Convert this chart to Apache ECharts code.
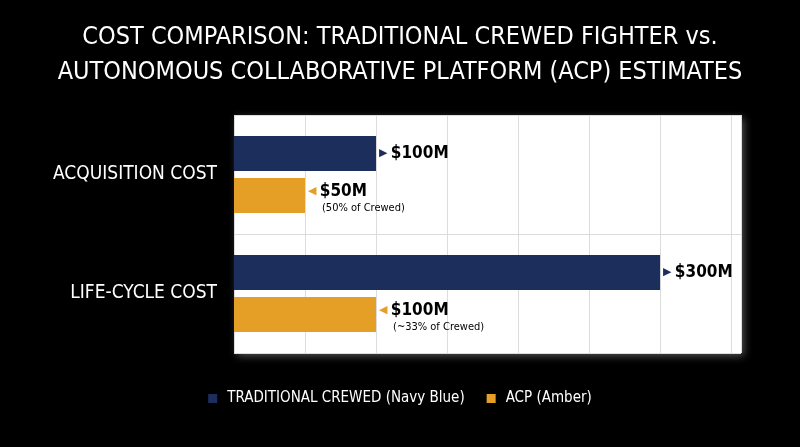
<!DOCTYPE html>
<html>
<head>
<meta charset="utf-8">
<script src="https://cdn.jsdelivr.net/npm/echarts@6/dist/echarts.min.js"></script>
<style>
html,body{margin:0;padding:0;background:#000;}
#chart{width:800px;height:447px;}
</style>
</head>
<body>
<div id="chart"></div>
<script>
var titleLines = ['COST COMPARISON: TRADITIONAL CREWED FIGHTER vs.', 'AUTONOMOUS COLLABORATIVE PLATFORM (ACP) ESTIMATES'];
var categories = ['ACQUISITION COST', 'LIFE-CYCLE COST'];
var seriesNames = ['TRADITIONAL CREWED (Navy Blue)', 'ACP (Amber)'];
var crewedValues = [100, 300];
var acpValues = [50, 100];
var acpNotes = ['(50% of Crewed)', '(~33% of Crewed)'];
var axisMin = 0, axisMax = 357, axisInterval = 50;

var NAVY = '#1c2f5c', AMBER = '#e59f27';
var FONT = '"DejaVu Sans Condensed","DejaVu Sans",sans-serif';

var chart = echarts.init(document.getElementById('chart'));
chart.setOption({
  backgroundColor: '#000',
  animation: false,
  title: {
    text: titleLines.join('\n'),
    left: 'center', top: 15,
    textStyle: { color: '#fff', fontFamily: FONT, fontSize: 25, fontWeight: 'normal', lineHeight: 35 }
  },
  legend: {
    bottom: 36, left: 'center',
    itemWidth: 9, itemHeight: 9, itemGap: 22,
    icon: 'rect',
    textStyle: { color: '#fff', fontFamily: FONT, fontSize: 15, padding: [0, 0, 0, 5] },
    data: seriesNames
  },
  grid: {
    left: 234, right: 59, top: 115, bottom: 94,
    show: true, backgroundColor: '#fff', borderWidth: 0,
    shadowColor: 'rgba(150,150,150,0.55)', shadowBlur: 8, shadowOffsetX: 3, shadowOffsetY: 3
  },
  xAxis: {
    type: 'value', min: axisMin, max: axisMax, interval: axisInterval,
    axisLabel: { show: false }, axisLine: { show: false }, axisTick: { show: false },
    splitLine: { show: true, lineStyle: { color: '#dcdcdc', width: 1 } }
  },
  yAxis: {
    type: 'category', data: categories, inverse: true,
    axisLine: { show: false }, axisTick: { show: false },
    axisLabel: { color: '#fff', fontFamily: FONT, fontSize: 19, margin: 17 },
    splitLine: { show: true, lineStyle: { color: '#dcdcdc', width: 1 } }
  },
  series: [
    {
      name: seriesNames[0], type: 'bar', data: crewedValues,
      barWidth: 35, barGap: '20%', barCategoryGap: '35%',
      itemStyle: { color: NAVY },
      label: {
        show: true, position: 'right', distance: 3,
        formatter: function (p) { return '{tri|▶} {v|$' + p.value + 'M}'; },
        rich: {
          tri: { color: NAVY, fontSize: 11, fontFamily: 'DejaVu Sans' },
          v: { color: '#000', fontSize: 17, fontFamily: FONT, fontWeight: 'bold' }
        }
      }
    },
    {
      name: seriesNames[1], type: 'bar', data: acpValues,
      barWidth: 35,
      itemStyle: { color: AMBER },
      label: {
        show: true, position: 'right', distance: 3, offset: [0, 3],
        formatter: function (p) {
          return '{tri|◀} {v|$' + p.value + 'M}\n{gap|}{sub|' + acpNotes[p.dataIndex] + '}';
        },
        rich: {
          tri: { color: AMBER, fontSize: 11, fontFamily: 'DejaVu Sans' },
          v: { color: '#000', fontSize: 17, fontFamily: FONT, fontWeight: 'bold', lineHeight: 20 },
          gap: { width: 14 },
          sub: { color: '#000', fontSize: 11, fontFamily: FONT, lineHeight: 14 }
        }
      }
    }
  ]
});
</script>
</body>
</html>
